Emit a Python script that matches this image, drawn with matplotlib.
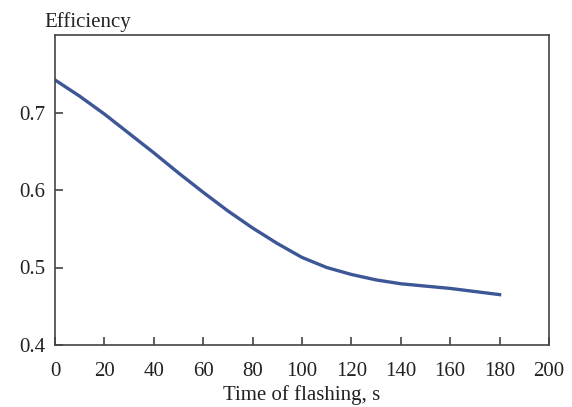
import numpy as np
import matplotlib.pyplot as plt

# values
time_s = [0, 10, 20, 30, 40, 50, 60, 70, 80, 90, 100, 110, 120, 130, 140, 150, 160, 170, 180]
efficiency = [0.742, 0.721, 0.698, 0.673, 0.648, 0.622, 0.597, 0.573, 0.551, 0.531,
              0.513, 0.500, 0.491, 0.484, 0.479, 0.476, 0.473, 0.469, 0.465]
x_ticks = [0, 20, 40, 60, 80, 100, 120, 140, 160, 180, 200]
y_ticks = [0.4, 0.5, 0.6, 0.7]

plt.rcParams['font.family'] = ['Liberation Serif', 'DejaVu Serif']

fig = plt.figure(figsize=(5.72, 4.07), dpi=100)
ax = fig.add_axes([55 / 572, 62 / 407, 494 / 572, 310 / 407])

ax.plot(time_s, efficiency, color='#3c5696', linewidth=2.4)

ax.set_xlim(0, 200)
ax.set_ylim(0.4, 0.8)
ax.set_xticks(x_ticks)
ax.set_yticks(y_ticks)
ax.set_yticklabels([f'{v:.1f}' for v in y_ticks])
ax.tick_params(direction='in', length=6, width=1.2, labelsize=15, color='#444444',
               labelcolor='#222222')
ax.tick_params(axis='x', pad=12)
ax.tick_params(axis='y', pad=7)
for s in ax.spines.values():
    s.set_color('#444444')
    s.set_linewidth(1.2)

ax.set_xlabel('Time of flashing, s', fontsize=15, color='#222222', labelpad=3)
fig.text(44 / 572, 1 - 22 / 407, 'Efficiency', fontsize=15, color='#222222',
         ha='left', va='center')

fig.savefig('out.png', dpi=100)
